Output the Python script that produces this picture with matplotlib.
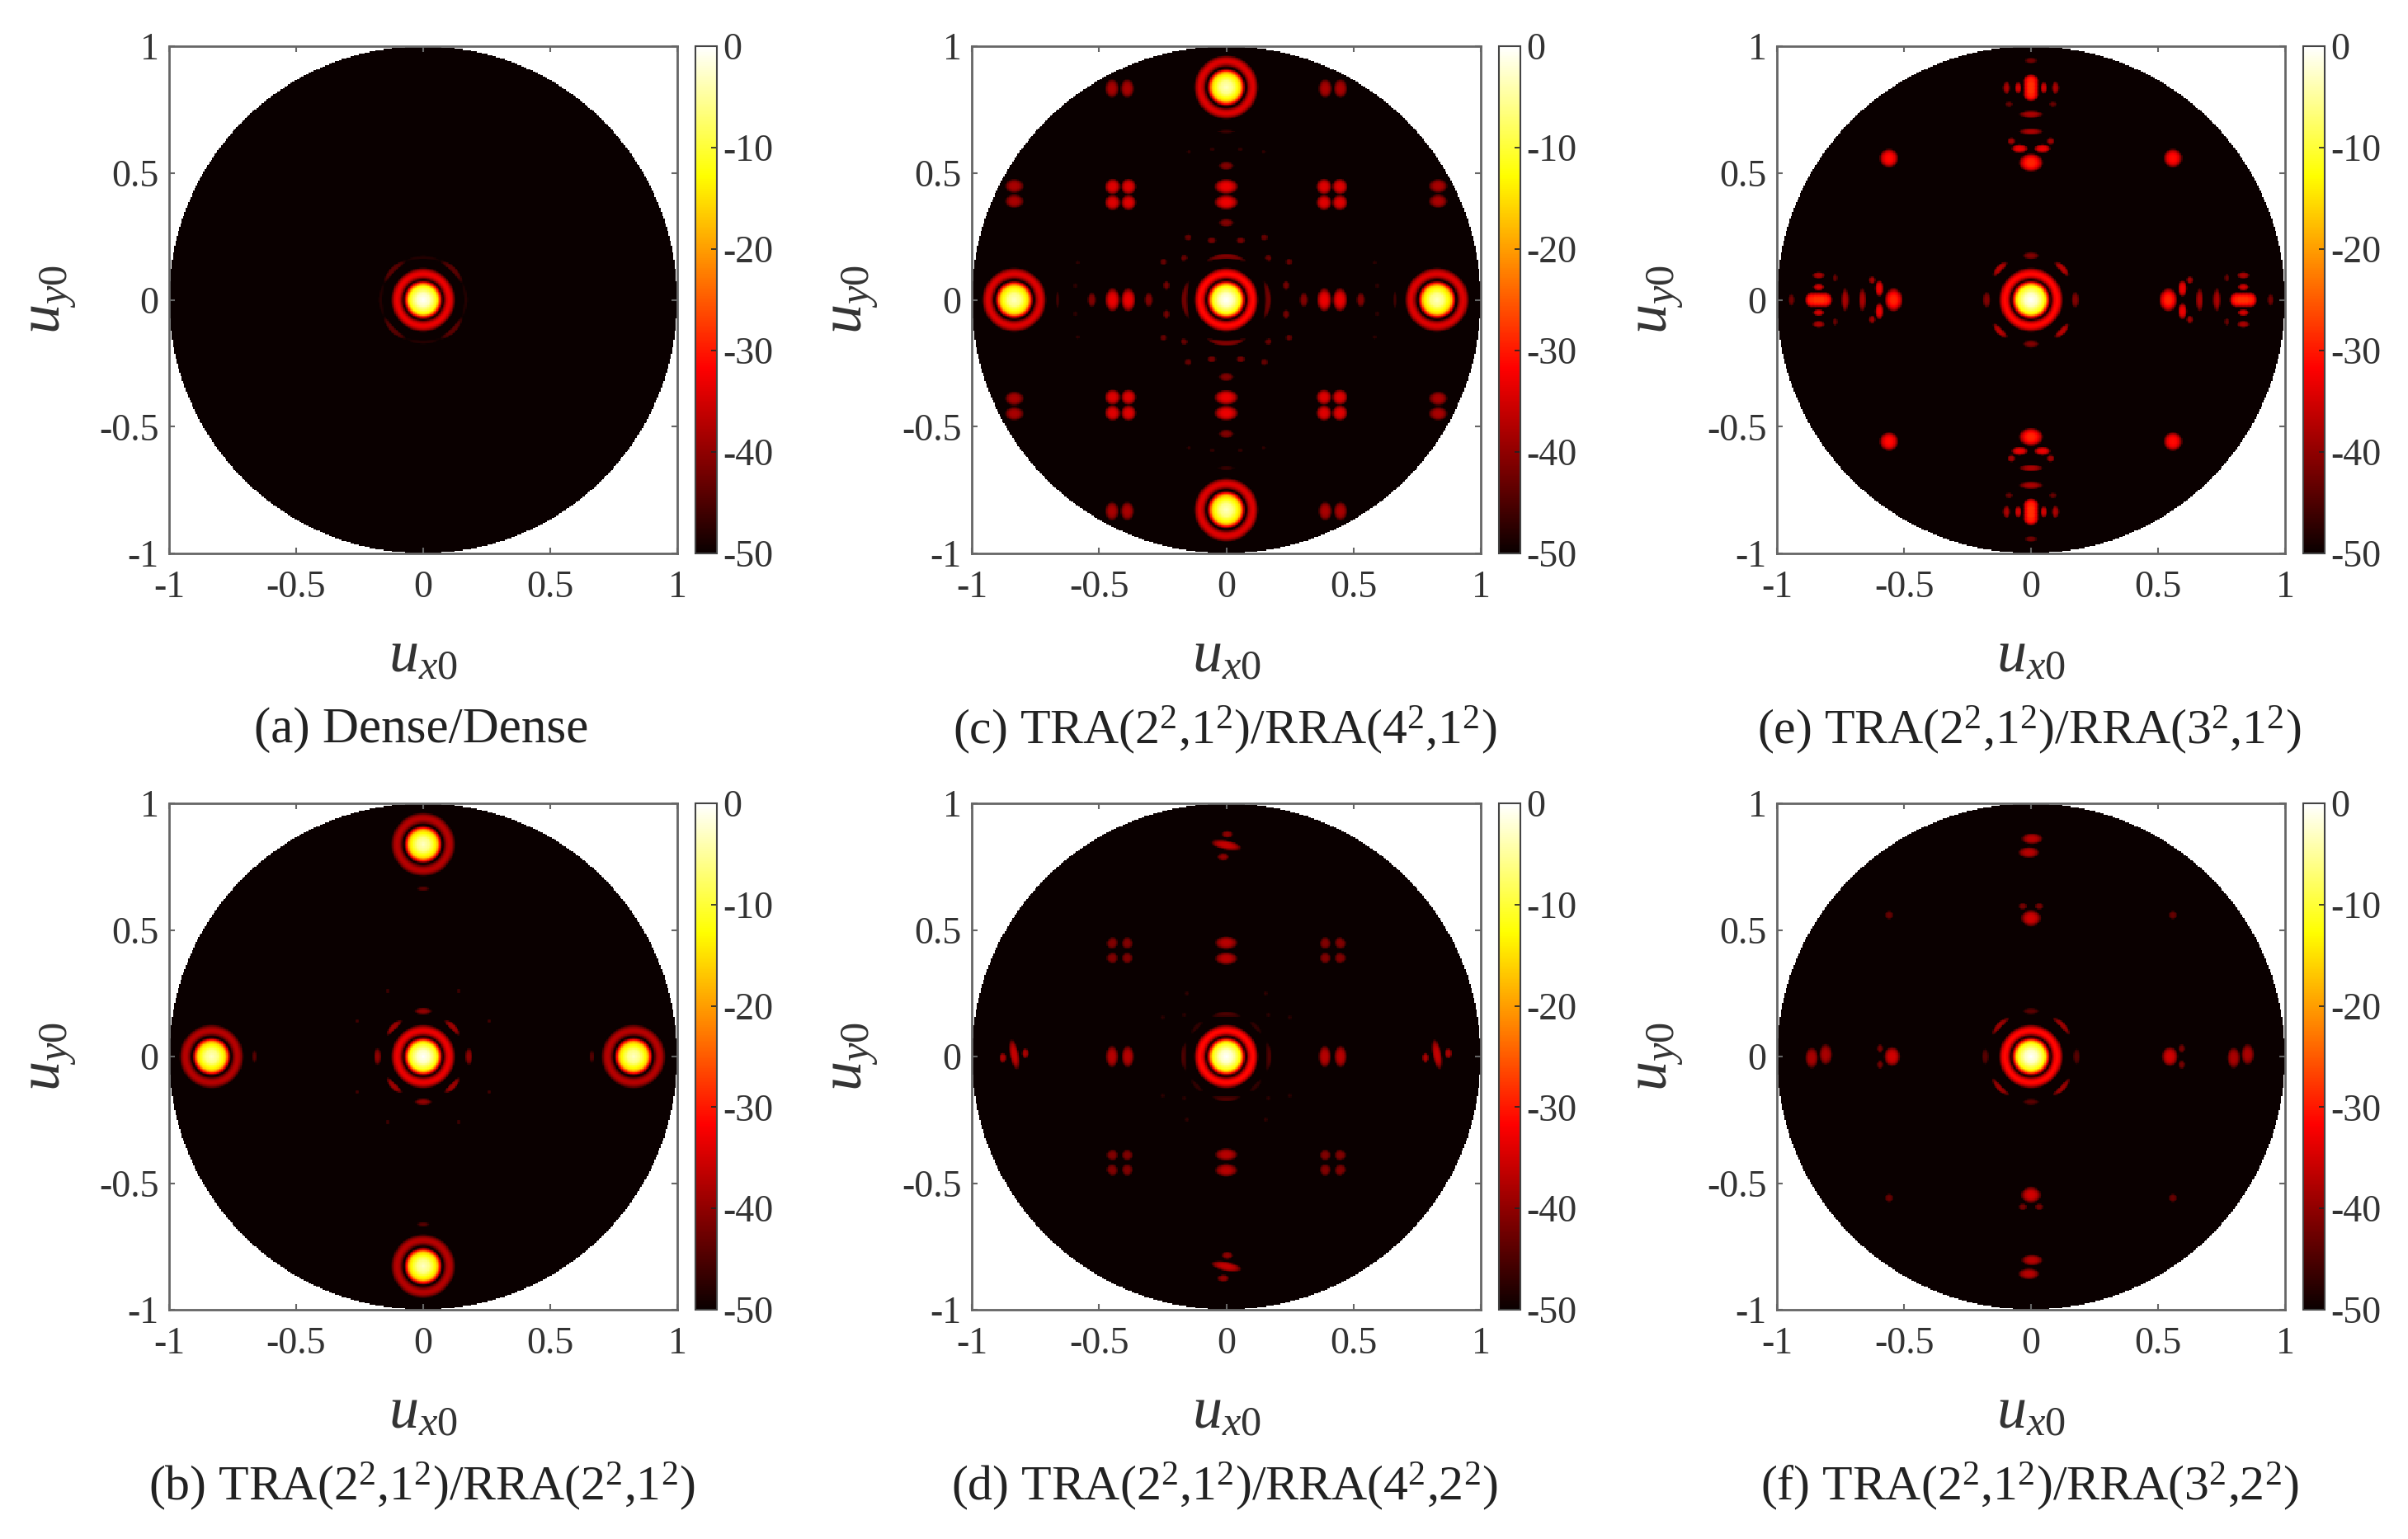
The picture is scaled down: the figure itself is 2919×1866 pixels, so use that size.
import numpy as np
import matplotlib
matplotlib.use("Agg")
from matplotlib import pyplot as plt

plt.rcParams['font.family'] = ['Liberation Serif', 'DejaVu Serif']
plt.rcParams['mathtext.fontset'] = 'custom'
plt.rcParams['mathtext.rm'] = 'Liberation Serif'
plt.rcParams['mathtext.it'] = 'Liberation Serif:italic'
plt.rcParams['mathtext.bf'] = 'Liberation Serif:bold'

W, H = 2919, 1866

tick_vals = [-1, -0.5, 0, 0.5, 1]
tick_labels = ['-1', '-0.5', '0', '0.5', '1']
cbar_vals = [0, -10, -20, -30, -40, -50]
cbar_labels = ['0', '-10', '-20', '-30', '-40', '-50']

captions = {
    'a': '(a) Dense/Dense',
    'b': '(b) TRA(2$^2$,1$^2$)/RRA(2$^2$,1$^2$)',
    'c': '(c) TRA(2$^2$,1$^2$)/RRA(4$^2$,1$^2$)',
    'd': '(d) TRA(2$^2$,1$^2$)/RRA(4$^2$,2$^2$)',
    'e': '(e) TRA(2$^2$,1$^2$)/RRA(3$^2$,1$^2$)',
    'f': '(f) TRA(2$^2$,1$^2$)/RRA(3$^2$,2$^2$)',
}

# radial shape of a main lobe: radius, dB below its peak
main_r = [0, 0.025, 0.054, 0.06, 0.067, 0.075, 0.08]
main_db = [0, -3, -13, -20, -30, -45, -50]

# main lobes: u, v, peak dB, first ring dB
mains_a = [(0, 0, 0, -33)]
mains_b = [(0, 0, 0, -33), (0.83, 0, -3, -37), (-0.835, 0, -3, -37), (0, 0.84, -3, -37), (0, -0.83, -3, -37)]
mains_c = [(0, 0, 0, -31), (0.83, 0, -3, -34), (-0.835, 0, -3, -34), (0, 0.84, -3, -34), (0, -0.83, -3, -34)]
mains_d = [(0, 0, 0, -31)]
mains_e = [(0, 0, 0, -31)]
mains_f = [(0, 0, 0, -31)]

# arcs round the centre: radius, angle, half angle, half width, dB (repeated in all quadrants)
arcs_a = [(0.168, 45, 22, 0.012, -44), (0.168, 0, 25, 0.008, -48), (0.168, 90, 25, 0.008, -48)]
arcs_b = [(0.165, 45, 15, 0.013, -39)]
arcs_c = [(0.165, 0, 28, 0.012, -42), (0.172, 90, 28, 0.012, -41)]
arcs_d = [(0.168, 0, 20, 0.012, -45), (0.168, 90, 20, 0.012, -45), (0.165, 45, 12, 0.01, -47)]
arcs_e = [(0.175, 45, 13, 0.014, -37)]
arcs_f = [(0.175, 45, 16, 0.012, -39)]

# side lobes: u, v, half width u, half width v, dB; repeated at +-u, +-v
# and repeated with u and v exchanged
lobes_b_swap = [(0.18, 0, 0.012, 0.03, -40), (0.26, 0.14, 0.008, 0.008, -46), (0.665, 0, 0.008, 0.022, -44)]

lobes_c_swap = [
    (0.385, 0.385, 0.027, 0.027, -34), (0.448, 0.385, 0.027, 0.027, -34),
    (0.385, 0.447, 0.027, 0.027, -34), (0.448, 0.447, 0.027, 0.027, -34),
    (0.386, 0, 0.026, 0.04, -33), (0.448, 0, 0.026, 0.04, -33),
    (0.305, 0, 0.015, 0.026, -41), (0.53, 0, 0.015, 0.026, -41),
    (0.39, 0.835, 0.024, 0.032, -38), (0.45, 0.835, 0.024, 0.032, -38),
    (0.665, 0, 0.006, 0.03, -46),
    (0.15, 0.247, 0.012, 0.012, -43), (0.057, 0.235, 0.016, 0.012, -42), (0.167, 0.165, 0.011, 0.011, -43),
    (0.585, 0.148, 0.007, 0.007, -47), (0.595, 0.055, 0.007, 0.009, -47),
]

lobes_d_swap = [
    (0.388, 0, 0.022, 0.038, -37), (0.45, 0, 0.022, 0.038, -37),
    (0.39, 0.39, 0.02, 0.018, -41), (0.45, 0.39, 0.02, 0.018, -41),
    (0.39, 0.447, 0.02, 0.018, -41), (0.45, 0.447, 0.02, 0.018, -41),
    (0.155, 0.25, 0.007, 0.007, -47), (0.165, 0.165, 0.007, 0.007, -47),
]

lobes_e_swap = [
    (0.175, 0, 0.013, 0.028, -41),
    (0.542, 0, 0.031, 0.04, -29),
    (0.598, 0.045, 0.015, 0.028, -33),
    (0.627, 0.078, 0.012, 0.014, -39),
    (0.665, 0, 0.012, 0.04, -38), (0.733, 0, 0.013, 0.04, -38),
    (0.812, 0, 0.024, 0.027, -29), (0.825, 0, 0.024, 0.027, -28), (0.838, 0, 0.024, 0.027, -28),
    (0.851, 0, 0.024, 0.027, -28), (0.864, 0, 0.024, 0.027, -29),
    (0.838, 0.05, 0.02, 0.012, -35), (0.838, 0.097, 0.022, 0.012, -38),
    (0.945, 0, 0.01, 0.022, -42), (0.773, 0.087, 0.009, 0.014, -43),
    (0.56, 0.56, 0.032, 0.032, -31),
]

lobes_f_swap = [
    (0.18, 0, 0.011, 0.028, -44),
    (0.548, 0, 0.028, 0.034, -35),
    (0.595, 0.032, 0.011, 0.014, -42),
    (0.56, 0.56, 0.015, 0.015, -43),
]

# lobes that only sit where they are listed: u, v, half u, half v, tilt degrees, dB
fixed_d = [
    (-0.835, 0.008, 0.016, 0.052, 11, -36), (-0.88, -0.005, 0.012, 0.018, 0, -38), (-0.792, 0.013, 0.012, 0.018, 0, -38),
    (0.83, 0.008, 0.016, 0.052, 11, -36), (0.785, -0.005, 0.012, 0.018, 0, -38), (0.875, 0.013, 0.012, 0.018, 0, -38),
    (0, 0.837, 0.052, 0.016, -11, -36), (0.004, 0.88, 0.02, 0.013, 0, -40), (-0.012, 0.79, 0.02, 0.013, 0, -40),
    (0, -0.831, 0.052, 0.016, -11, -36), (0.004, -0.787, 0.02, 0.013, 0, -40), (-0.012, -0.878, 0.02, 0.013, 0, -40),
]
fixed_f = [
    (-0.865, -0.005, 0.022, 0.036, 0, -38), (-0.81, 0.008, 0.022, 0.036, 0, -38),
    (0.8, -0.005, 0.022, 0.036, 0, -38), (0.855, 0.008, 0.022, 0.036, 0, -38),
    (0.004, 0.862, 0.036, 0.019, 0, -37), (-0.008, 0.808, 0.036, 0.019, 0, -37),
    (0.004, -0.806, 0.036, 0.019, 0, -37), (-0.008, -0.86, 0.036, 0.019, 0, -37),
]

# pixel boxes of the panels in the reference: left, right, top, bottom
col_x = {'a': (205, 821), 'b': (205, 821), 'c': (1178, 1795), 'd': (1178, 1795), 'e': (2154, 2770), 'f': (2154, 2770)}
row_y = {'a': (56, 671), 'c': (56, 671), 'e': (56, 671), 'b': (974, 1588), 'd': (974, 1588), 'f': (974, 1588)}

panels = {
    'a': (mains_a, arcs_a, [], []),
    'b': (mains_b, arcs_b, lobes_b_swap, []),
    'c': (mains_c, arcs_c, lobes_c_swap, []),
    'd': (mains_d, arcs_d, lobes_d_swap, fixed_d),
    'e': (mains_e, arcs_e, lobes_e_swap, []),
    'f': (mains_f, arcs_f, lobes_f_swap, fixed_f),
}

n = 401
grid = np.linspace(-1, 1, n)
U, V = np.meshgrid(grid, grid)
lobe_scale = 1.2


def falloff(d2):
    # dB lobes are flat on top and drop fast into their nulls
    return d2 ** 1.6


def add_lobe(field, u, v, su, sv, tilt, db):
    t = np.radians(tilt)
    du, dv = U - u, V - v
    a = (du * np.cos(t) + dv * np.sin(t)) / (su * lobe_scale)
    b = (-du * np.sin(t) + dv * np.cos(t)) / (sv * lobe_scale)
    return np.maximum(field, db + (-50 - db) * falloff(a ** 2 + b ** 2))


def build_field(mains, arcs, swap_lobes, fixed):
    field = np.full(U.shape, -50.0)
    for u, v, peak, ring in mains:
        r = np.hypot(U - u, V - v)
        field = np.maximum(field, peak + np.interp(r, main_r, main_db, right=-200))
        field = np.maximum(field, ring + (-50 - ring) * ((r - 0.103) / 0.024) ** 2)
    r = np.hypot(U, V)
    th = np.degrees(np.arctan2(np.abs(V), np.abs(U)))
    for r0, ang, half, dr, db in arcs:
        field = np.maximum(field, db + (-50 - db) * falloff(((r - r0) / dr) ** 2 + ((th - ang) / half) ** 2))
    for u, v, su, sv, db in swap_lobes:
        for s1 in (1, -1):
            for s2 in (1, -1):
                field = add_lobe(field, s1 * u, s2 * v, su, sv, 0, db)
                field = add_lobe(field, s1 * v, s2 * u, sv, su, 0, db)
    for u, v, su, sv, tilt, db in fixed:
        field = add_lobe(field, u, v, su, sv, tilt, db)
    field = np.clip(field, -50, 0)
    return np.ma.masked_where(U ** 2 + V ** 2 > 1.005, field)


cmap = plt.get_cmap('hot').copy()
cmap.set_bad('white', 0)

text_color = '#333333'
line_color = '#666666'

fig = plt.figure(figsize=(W / 100, H / 100), dpi=100, facecolor='white')


def fx(px):
    return px / W


def fy(px):
    return 1 - px / H


for key, (mains, arcs, swap_lobes, fixed) in panels.items():
    x0, x1 = col_x[key]
    y0, y1 = row_y[key]
    ax = fig.add_axes([fx(x0), fy(y1), (x1 - x0) / W, (y1 - y0) / H])
    im = ax.imshow(build_field(mains, arcs, swap_lobes, fixed), origin='lower', extent=[-1, 1, -1, 1],
                   cmap=cmap, vmin=-50, vmax=0, interpolation='nearest', aspect='auto')
    ax.set_xlim(-1, 1)
    ax.set_ylim(-1, 1)
    ax.set_xticks(tick_vals)
    ax.set_xticklabels(tick_labels)
    ax.set_yticks(tick_vals)
    ax.set_yticklabels(tick_labels)
    ax.tick_params(direction='in', top=True, right=True, length=5, width=1.5, color=line_color,
                   labelsize=33, labelcolor=text_color)
    ax.tick_params(axis='x', pad=15)
    ax.tick_params(axis='y', pad=9)
    for sp in ax.spines.values():
        sp.set_linewidth(2)
        sp.set_color(line_color)

    cax = fig.add_axes([fx(x1 + 22), fy(y1), 26 / W, (y1 - y0) / H])
    cb = fig.colorbar(im, cax=cax)
    cb.set_ticks(cbar_vals)
    cb.set_ticklabels(cbar_labels)
    cb.ax.tick_params(direction='in', length=5, width=1.2, color='#222222', labelsize=33,
                      labelcolor=text_color, pad=5)
    cb.outline.set_linewidth(1.5)
    cb.outline.set_edgecolor('#444444')

    xc = (x0 + x1) / 2
    fig.text(fx(xc), fy(y1 + 126), '$u_{x0}$', fontsize=52, color=text_color, ha='center', va='center')
    fig.text(fx(x0 - 142), fy((y0 + y1) / 2), '$u_{y0}$', fontsize=52, color=text_color, ha='center',
             va='center', rotation=90)
    fig.text(fx(xc - 2), fy(y1 + 214), captions[key], fontsize=44 if key == 'a' else 43, color='#222222',
             ha='center', va='center')

fig.savefig('out.png', dpi=100)
